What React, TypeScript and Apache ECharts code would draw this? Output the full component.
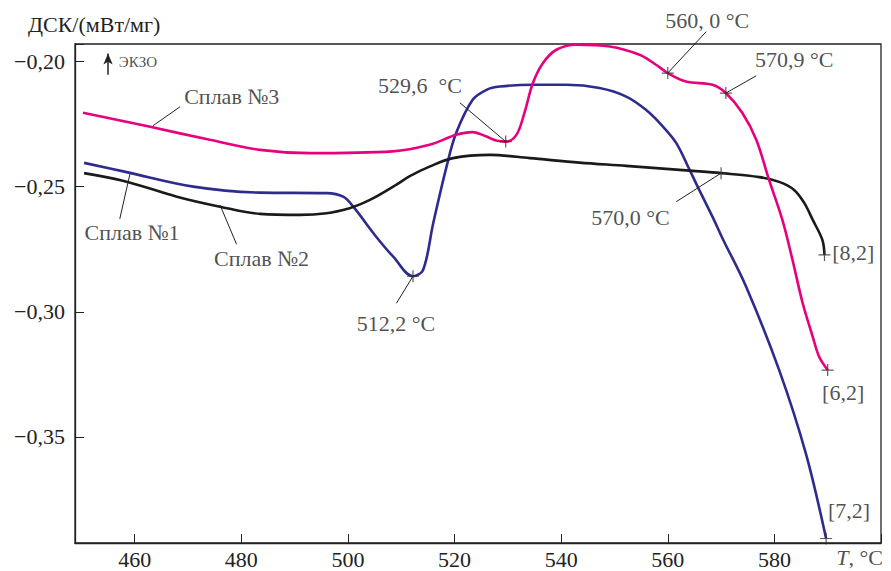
import React, { useEffect, useRef } from "react";
import * as echarts from "echarts";

// Сплав №1 (blue)
const alloy1: number[][] = [
  [450.5, -0.2405], [458.5, -0.2442], [471.0, -0.25], [483.5, -0.2524], [496.0, -0.2526],
  [499.1, -0.254], [501.0, -0.258], [505.3, -0.27], [508.5, -0.278], [512.2, -0.2858],
  [514.1, -0.2833], [516.0, -0.2646], [518.5, -0.242], [520.3, -0.2286], [523.4, -0.2153],
  [526.0, -0.2113], [528.5, -0.21], [534.7, -0.2093], [541.0, -0.2093], [547.2, -0.2106],
  [552.2, -0.214], [555.9, -0.2193], [559.1, -0.226], [561.6, -0.2326], [564.1, -0.2433],
  [565.9, -0.2513], [568.4, -0.2621], [570.3, -0.2708], [574.7, -0.29], [580.9, -0.3233],
  [585.9, -0.3566], [589.7, -0.3906],
];

// Сплав №2 (black)
const alloy2: number[][] = [
  [450.5, -0.2446], [458.5, -0.248], [467.9, -0.254], [476.0, -0.258], [483.5, -0.2609],
  [491.0, -0.2613], [496.0, -0.2606], [500.3, -0.2586], [502.8, -0.2566], [505.3, -0.254],
  [509.1, -0.2492], [511.6, -0.2458], [515.3, -0.242], [519.7, -0.2386], [526.6, -0.2373],
  [534.1, -0.2386], [543.4, -0.2404], [552.2, -0.2417], [564.7, -0.2437], [570.0, -0.2446],
  [577.2, -0.2462], [580.9, -0.2481], [583.7, -0.2513], [585.6, -0.2565], [587.2, -0.2633],
  [589.0, -0.2713], [589.4, -0.2773],
];

// Сплав №3 (magenta)
const alloy3: number[][] = [
  [450.3, -0.2205], [462.9, -0.2261], [474.1, -0.2313], [483.5, -0.2353], [492.8, -0.2366],
  [508.4, -0.2359], [515.3, -0.2333], [520.3, -0.2293], [523.4, -0.2282], [526.0, -0.23],
  [527.8, -0.2316], [529.6, -0.232], [531.6, -0.2293], [533.1, -0.2206], [534.7, -0.2086],
  [536.6, -0.2006], [539.1, -0.1953], [542.8, -0.1933], [549.1, -0.194], [554.7, -0.1973],
  [557.8, -0.2013], [560.0, -0.2046], [563.4, -0.208], [568.4, -0.2093], [570.9, -0.2126],
  [574.0, -0.2206], [576.6, -0.2313], [579.0, -0.2473], [581.5, -0.2633], [583.4, -0.2793],
  [585.3, -0.2965], [587.2, -0.31], [588.4, -0.318], [590.0, -0.3233],
];

// temperatures marked with a cross on each curve
const marked1 = [512.2, 589.7];
const marked2 = [570.0, 589.4];
const marked3 = [529.6, 560.0, 570.9, 590.0];

const xTicks = [460, 480, 500, 520, 540, 560, 580];
const yTicks = [-0.2, -0.25, -0.3, -0.35];

// annotation texts (data coordinates of their centres)
const noteTexts = [
  "Сплав №3", "Сплав №1", "Сплав №2", "512,2 °C", "529,6  °C", "560, 0 °C",
  "570,9 °C", "570,0 °C", "[8,2]", "[6,2]", "[7,2]",
];
const notePos = [
  [478.2, -0.2141], [459.5, -0.2685], [483.8, -0.2789], [509.0, -0.3045], [513.5, -0.2097],
  [567.4, -0.1837], [583.7, -0.1993], [553.0, -0.2625], [594.8, -0.2765], [592.9, -0.3321],
  [594.0, -0.3793],
];
// leader lines: start, end
const leaders = [
  [[468.5, -0.2181], [463.4, -0.2257]],
  [[457.2, -0.2629], [459.1, -0.245]],
  [[479.1, -0.273], [476.0, -0.2573]],
  [[509.1, -0.2966], [512.2, -0.2858]],
  [[521.0, -0.2165], [529.6, -0.232]],
  [[567.2, -0.1881], [560.0, -0.2046]],
  [[576.6, -0.2057], [570.9, -0.2126]],
  [[561.6, -0.256], [570.0, -0.2446]],
];

const FONT = '"Liberation Serif", "Times New Roman", serif';
const INK = "#222";

function pick(series: number[][], xs: number[]) {
  return xs.map((x) => series.find((p) => Math.abs(p[0] - x) < 1e-6) as number[]);
}

export default function App() {
  const ref = useRef<HTMLDivElement>(null);
  useEffect(() => {
    if (!ref.current) return;
    const chart = echarts.init(ref.current, undefined, { renderer: "svg" });
    const markers = [
      ...pick(alloy1, marked1),
      ...pick(alloy2, marked2),
      ...pick(alloy3, marked3),
    ];
    const lineBase = {
      type: "line",
      smooth: 0.35,
      showSymbol: false,
      symbol: "none",
      clip: false,
      silent: true,
    };
    const textLabel = {
      show: true,
      position: "inside",
      formatter: "{b}",
      fontSize: 22,
      color: INK,
      fontFamily: FONT,
    };
    const leaderSeries = leaders.map((l) => ({
      type: "line",
      data: l,
      symbol: "none",
      showSymbol: false,
      clip: false,
      silent: true,
      z: 4,
      lineStyle: { color: INK, width: 1 },
    }));
    chart.setOption({
      animation: false,
      backgroundColor: "#fff",
      grid: {
        left: 75, right: 10, top: 44, bottom: 28,
        show: true, borderColor: INK, borderWidth: 1.3,
        outerBoundsMode: "none",
      },
      graphic: [
        {
          type: "text",
          left: 28,
          top: 13,
          silent: true,
          style: { text: "ДСК/(мВт/мг)", fontSize: 22, fontFamily: FONT, fill: INK },
        },
      ],
      xAxis: {
        type: "value",
        min: 448.8,
        max: 600,
        splitNumber: 7,
        minInterval: 20,
        maxInterval: 20,
        axisLine: { lineStyle: { color: INK, width: 1.3 } },
        axisTick: { inside: true, length: 9, lineStyle: { color: INK, width: 1 } },
        splitLine: { show: false },
        axisLabel: {
          margin: 7,
          fontSize: 22,
          lineHeight: 18,
          color: INK,
          fontFamily: FONT,
          formatter: (v: number) =>
            xTicks.some((t) => Math.abs(t - v) < 1e-6) ? String(Math.round(v)) : "",
        },
      },
      yAxis: {
        type: "value",
        min: -0.3924,
        max: -0.193,
        splitNumber: 4,
        minInterval: 0.05,
        maxInterval: 0.05,
        axisLine: { show: true, lineStyle: { color: INK, width: 1.3 } },
        axisTick: { show: true, inside: true, length: 9, lineStyle: { color: INK, width: 1 } },
        splitLine: { show: false },
        axisLabel: {
          margin: 10,
          fontSize: 22,
          color: INK,
          fontFamily: FONT,
          formatter: (v: number) =>
            yTicks.some((t) => Math.abs(t - v) < 1e-6)
              ? "\u2212" + Math.abs(v).toFixed(2).replace(".", ",")
              : "",
        },
      },
      series: [
        {
          ...lineBase,
          name: "Сплав №3",
          data: alloy3,
          lineStyle: { color: "#e6007e", width: 2.6 },
          itemStyle: { color: "#e6007e" },
          z: 3,
        },
        {
          ...lineBase,
          name: "Сплав №1",
          data: alloy1,
          lineStyle: { color: "#2d2c8e", width: 2.6 },
          itemStyle: { color: "#2d2c8e" },
          z: 2,
        },
        {
          ...lineBase,
          name: "Сплав №2",
          data: alloy2,
          lineStyle: { color: "#1a1a1a", width: 2.6 },
          itemStyle: { color: "#1a1a1a" },
          z: 2,
          markLine: {
            silent: true,
            symbol: ["none", "arrow"],
            symbolSize: [7, 11],
            label: { show: false },
            lineStyle: { color: INK, width: 1.5, type: "solid" },
            data: [[{ coord: [455.0, -0.2053] }, { coord: [455.0, -0.1968] }]],
          },
        },
        ...leaderSeries,
        {
          type: "scatter",
          silent: true,
          clip: false,
          z: 5,
          symbol: "path://M0,5L10,5M5,0L5,10",
          symbolSize: 12,
          itemStyle: { color: "none", borderColor: "#333", borderWidth: 1.2 },
          data: markers,
        },
        {
          type: "scatter",
          silent: true,
          clip: false,
          z: 6,
          symbolSize: 1,
          itemStyle: { color: "rgba(0,0,0,0)" },
          label: textLabel,
          data: [
            ...noteTexts.map((t, i) => ({ name: t, value: notePos[i] })),
            { name: "ЭКЗО", value: [460.6, -0.2001], label: { ...textLabel, fontSize: 15 } },
            {
              name: "T, °C",
              value: [596.0, -0.3982],
              label: {
                ...textLabel,
                lineHeight: 18,
                formatter: "{i|T}, °C",
                rich: { i: { fontStyle: "italic", fontSize: 22, fontFamily: FONT, color: INK, lineHeight: 18 } },
              },
            },
          ],
        },
      ],
    });
    return () => chart.dispose();
  }, []);
  return (
    <div
      ref={ref}
      style={{ position: "fixed", left: 0, top: 0, width: 891, height: 571, background: "#fff" }}
    />
  );
}
